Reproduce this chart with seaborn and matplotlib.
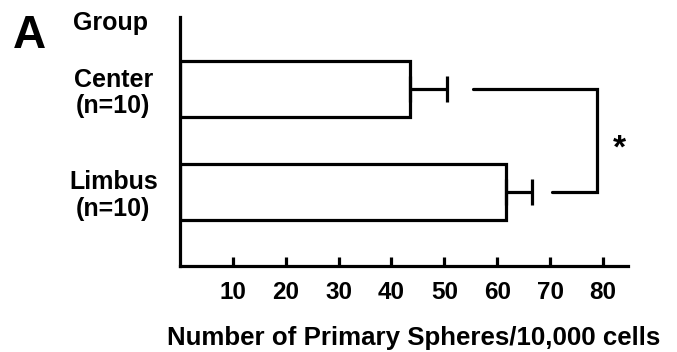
import matplotlib
matplotlib.use("Agg")
import matplotlib.pyplot as plt
import seaborn as sns
import pandas as pd

# Data
groups = ["Center\n(n=10)", "Limbus\n(n=10)"]
means = [43.5, 61.6]
errors = [7.1, 4.9]
x_ticks = [10, 20, 30, 40, 50, 60, 70, 80]
# significance bracket (data units): start x for each group, vertical x
bracket_start = [55.4, 70.3]
bracket_vertical = 78.8
sig_label = "*"

sns.set_theme(style="white")
plt.rcParams["font.family"] = ["Liberation Sans", "DejaVu Sans"]
plt.rcParams["font.weight"] = "bold"
plt.rcParams["text.color"] = "black"
plt.rcParams["axes.labelcolor"] = "black"
plt.rcParams["xtick.color"] = "black"
plt.rcParams["ytick.color"] = "black"

df = pd.DataFrame({"group": groups, "mean": means, "err": errors})

fig = plt.figure(figsize=(6.77, 3.52), dpi=100)
ax = fig.add_axes([180/677, 1-265.7/352, (628-180)/677, (265.7-17)/352])

LW = 2.3
sns.barplot(data=df, x="mean", y="group", orient="h", color="white",
            edgecolor="black", linewidth=LW, width=0.54, ax=ax, errorbar=None)
for b in ax.patches:
    b.set_facecolor("white")

ypos = list(range(len(groups)))
ax.errorbar(df["mean"], ypos, xerr=[[0]*len(errors), df["err"]], fmt="none",
            ecolor="black", elinewidth=LW, capsize=9.5, capthick=LW)

# bracket
ax.plot([bracket_start[0], bracket_vertical, bracket_vertical, bracket_start[1]],
        [ypos[0], ypos[0], ypos[1], ypos[1]], color="black", lw=LW,
        solid_joinstyle="miter", clip_on=False)
ax.text(bracket_vertical + 4.3, (ypos[0] + ypos[1]) / 2 + 0.08, sig_label,
        ha="center", va="center", fontsize=24, fontweight="bold", color="black")

ax.set_xlim(0, 84.75)
ax.set_ylim(1.716, -0.70)
ax.set_xticks(x_ticks)
ax.set_xticklabels([str(t) for t in x_ticks], fontsize=17.5, fontweight="bold")
ax.tick_params(axis="x", direction="in", length=6.5, width=LW, pad=11,
               bottom=True, colors="black")
ax.tick_params(axis="y", length=0, pad=48, colors="black")
for lab in ax.get_yticklabels():
    lab.set_ha("center")
    lab.set_fontsize(18)
    lab.set_fontweight("bold")
    lab.set_linespacing(1.15)

for s in ["top", "right"]:
    ax.spines[s].set_visible(False)
for s in ["left", "bottom"]:
    ax.spines[s].set_color("black")
    ax.spines[s].set_linewidth(LW)

ax.set_ylabel("")
ax.set_xlabel("Number of Primary Spheres/10,000 cells", fontsize=18.6,
              fontweight="bold", labelpad=16, color="black")
ax.xaxis.label.set_x(0.521)

fig.text(13/677, 1-48/352, "A", fontsize=33, fontweight="bold",
         ha="left", va="baseline", color="black")
fig.text(110/677, 1-30/352, "Group", fontsize=18, fontweight="bold",
         ha="center", va="baseline", color="black")

fig.savefig("out.png", dpi=100, facecolor="white")
